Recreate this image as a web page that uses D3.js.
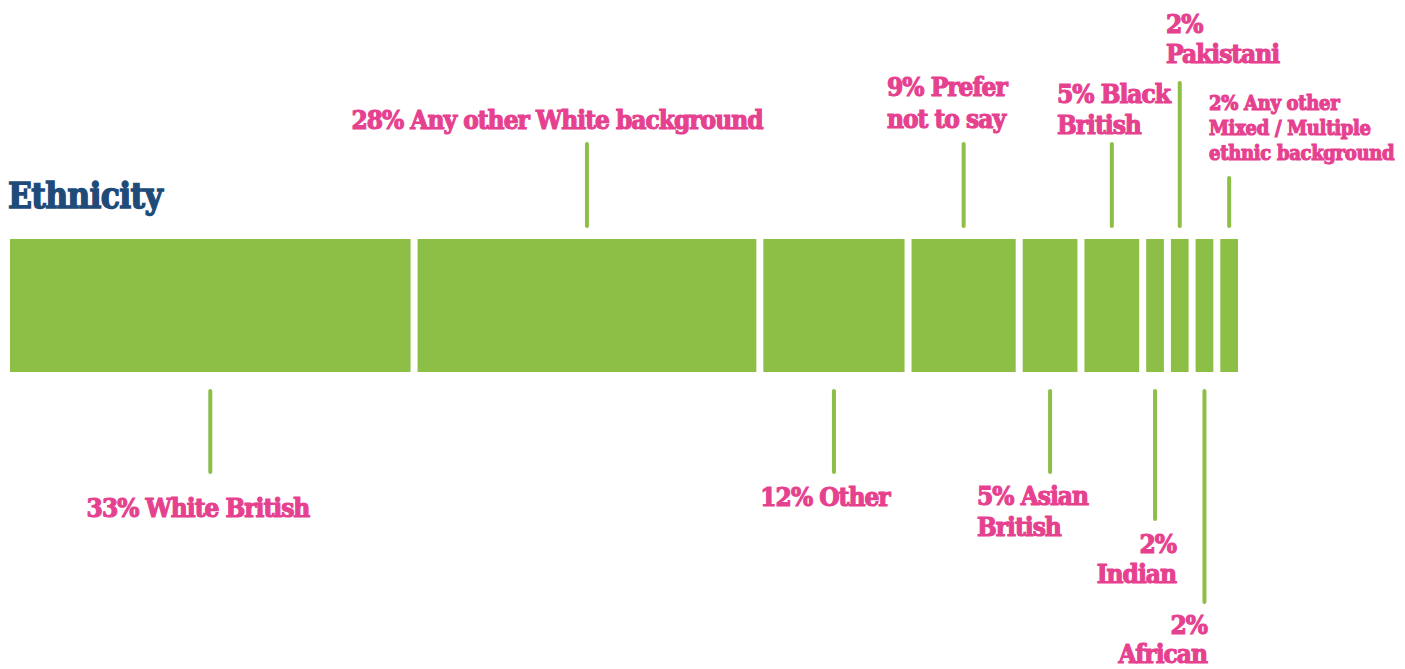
<!DOCTYPE html>
<html>
<head>
<meta charset="utf-8">
<script src="https://cdn.jsdelivr.net/npm/d3@7"></script>
<style>
  html, body { margin: 0; padding: 0; background: #ffffff; }
  svg { display: block; }
  .lbl { font-family: "DejaVu Serif", serif; font-weight: bold; font-stretch: condensed; fill: #e6418f; stroke: #e6418f; stroke-width: 1.1px; }
  .title { font-family: "DejaVu Serif", serif; font-weight: bold; font-stretch: condensed; fill: #1f4b79; stroke: #1f4b79; stroke-width: 1.3px; }
</style>
</head>
<body>
<script>
// Share of respondents by ethnicity (%)
const categories = [
  "White British",
  "Any other White background",
  "Other",
  "Prefer not to say",
  "Asian British",
  "Black British",
  "Indian",
  "Pakistani",
  "African",
  "Any other Mixed / Multiple ethnic background"
];
const values = [33, 28, 12, 9, 5, 5, 2, 2, 2, 2];

// Label text lines (the percentage is prefixed from the values)
const labelLines = [
  ["White British"],
  ["Any other White background"],
  ["Other"],
  ["Prefer", "not to say"],
  ["Asian", "British"],
  ["Black", "British"],
  ["", "Indian"],
  ["", "Pakistani"],
  ["", "African"],
  ["Any other", "Mixed / Multiple", "ethnic background"]
];

// Annotation layout: side of the bar, leader length, label anchor and placement
const layout = [
  { side: "bottom", len: 81,  anchor: "middle", lx: 198,  base: 517, size: 26, lead: 31, ls: -1.0 },
  { side: "top",    len: 82,  anchor: "middle", lx: 557,  base: 129, size: 26, lead: 31, ls: -1.0 },
  { side: "bottom", len: 81,  anchor: "middle", lx: 825,  base: 506, size: 26, lead: 31, ls: -1.0 },
  { side: "top",    len: 82,  anchor: "start",  lx: 887,  base: 96,  size: 26, lead: 32, ls: -1.0 },
  { side: "bottom", len: 81,  anchor: "start",  lx: 977,  base: 505, size: 26, lead: 31, ls: -1.0 },
  { side: "top",    len: 82,  anchor: "start",  lx: 1057, base: 103, size: 26, lead: 31, ls: -1.0 },
  { side: "bottom", len: 128, anchor: "end",    lx: 1176, base: 553, size: 26, lead: 30, ls: -1.0 },
  { side: "top",    len: 143, anchor: "start",  lx: 1166, base: 33,  size: 26, lead: 30, ls: -1.0 },
  { side: "bottom", len: 211, anchor: "end",    lx: 1207, base: 634, size: 26, lead: 29, ls: -1.0 },
  { side: "top",    len: 48,  anchor: "start",  lx: 1209, base: 110, size: 20, lead: 25, ls: -0.3 }
];

const W = 1405, H = 669;
const barTop = 239, barBottom = 372, gap = 7, leaderGap = 13;
const green = "#8dbf46";

const svg = d3.select("body").append("svg")
  .attr("width", W).attr("height", H);

const x = d3.scaleLinear().domain([0, d3.sum(values)]).range([10, 1245]);

const cum = d3.cumsum(values);
const segs = values.map((v, i) => ({
  v, i,
  start: cum[i] - v,
  end: cum[i]
}));

// Title
svg.append("text").attr("class", "title")
  .attr("x", 8).attr("y", 208)
  .style("font-size", "35px")
  .style("letter-spacing", "-0.7px")
  .text("Ethnicity");

// Bar segments
svg.append("g").selectAll("rect").data(segs).join("rect")
  .attr("x", d => x(d.start))
  .attr("y", barTop)
  .attr("width", d => x(d.end) - x(d.start) - gap)
  .attr("height", barBottom - barTop)
  .attr("fill", green);

const cx = d => (x(d.start) + x(d.end) - gap) / 2;

// Leader lines
svg.append("g").selectAll("line").data(segs).join("line")
  .attr("x1", cx).attr("x2", cx)
  .attr("y1", d => layout[d.i].side === "top" ? barTop - leaderGap : barBottom + leaderGap + 6)
  .attr("y2", d => layout[d.i].side === "top" ? barTop - leaderGap - layout[d.i].len : barBottom + leaderGap + 6 + layout[d.i].len)
  .attr("stroke", green)
  .attr("stroke-width", 4)
  .attr("stroke-linecap", "round");

// Labels
const lg = svg.append("g").selectAll("text").data(segs).join("text")
  .attr("class", "lbl")
  .attr("text-anchor", d => layout[d.i].anchor)
  .style("font-size", d => layout[d.i].size + "px")
  .style("letter-spacing", d => layout[d.i].ls + "px");

lg.each(function(d) {
  const L = layout[d.i];
  const lines = labelLines[d.i].slice();
  const pct = d.v + "%";
  lines[0] = lines[0] ? pct + " " + lines[0] : pct;
  d3.select(this).selectAll("tspan").data(lines).join("tspan")
    .attr("x", L.lx)
    .attr("y", (s, k) => L.base + k * L.lead)
    .text(s => s);
});
</script>
</body>
</html>
